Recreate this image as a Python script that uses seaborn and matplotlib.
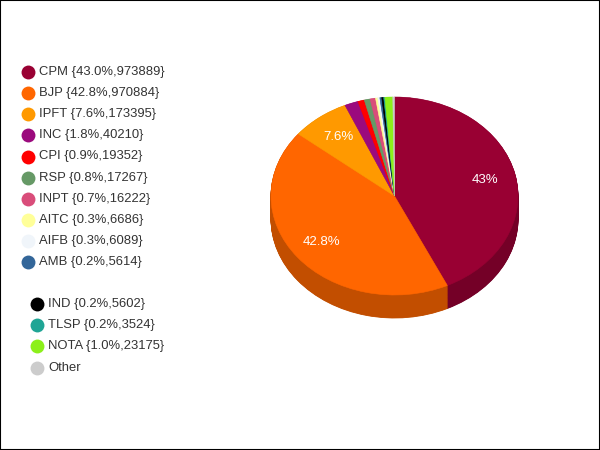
import numpy as np
import matplotlib
matplotlib.use("Agg")
import matplotlib.pyplot as plt
import matplotlib.colors as mcolors
from matplotlib.patches import Rectangle
import seaborn as sns

# ---- data ----
parties = ["CPM", "BJP", "IPFT", "INC", "CPI", "RSP", "INPT", "AITC", "AIFB", "AMB",
           "IND", "TLSP", "NOTA", "Other"]
votes = [973889, 970884, 173395, 40210, 19352, 17267, 16222, 6686, 6089, 5614,
         5602, 3524, 23175, 5000]
colors = ["#990033", "#ff6600", "#ff9900", "#9b0a7d", "#ff0000", "#669966", "#d94d7a",
          "#ffff99", "#f0f5fa", "#336699", "#000000", "#1fa595", "#8cf01a", "#cccccc"]

sns.set_style("white")
plt.rcParams["font.family"] = ["Liberation Sans", "DejaVu Sans"]

fig = plt.figure(figsize=(6, 4.5), dpi=100)
fig.patch.set_facecolor("white")

total = float(sum(votes))
pcts = [v / total * 100 for v in votes]

# ---- 3D-like pie ----
cx, cy, rx, ry, depth = 394.5, 196.0, 123.5, 99.0, 23.0
d = depth / ry
ax = fig.add_axes([(cx - rx) / 600, (450 - (cy + ry + depth)) / 450,
                   2 * rx / 600, (2 * ry + depth) / 450])
pie_vals = [v for v in votes if v > 0]
pie_cols = [c for v, c in zip(votes, colors) if v > 0]
dark_cols = [tuple(np.array(mcolors.to_rgb(c)) * 0.76) for c in pie_cols]

for k in np.linspace(-d, -0.005, 40):
    ax.pie(pie_vals, colors=dark_cols, center=(0, k), radius=1, startangle=90,
           counterclock=False, wedgeprops=dict(linewidth=0.6))
    for w, c in zip(ax.patches[-len(pie_vals):], dark_cols):
        w.set_edgecolor(c)


def fmt(p):
    if p < 5:
        return ""
    s = f"{p:.1f}"
    if s.endswith(".0"):
        s = s[:-2]
    return s + "%"


wedges, texts, autotexts = ax.pie(
    pie_vals, colors=pie_cols, center=(0, 0), radius=1, startangle=90,
    counterclock=False, autopct=fmt, pctdistance=0.75,
    wedgeprops=dict(linewidth=0.4),
    textprops=dict(color="white", fontsize=9.5))
for w, c in zip(wedges, pie_cols):
    w.set_edgecolor(c)
ax.set_aspect("auto")
ax.set_xlim(-1, 1)
ax.set_ylim(-1 - d, 1)
ax.axis("off")

# ---- legend ----
lg = fig.add_axes([0, 0, 1, 1], zorder=5)
lg.set_xlim(0, 600)
lg.set_ylim(450, 0)
lg.axis("off")
lg.patch.set_alpha(0)
for i, (name, v, p, c) in enumerate(zip(parties, votes, pcts, colors)):
    if i < 10:
        mx, y = 27.5, 72.3 + 21.05 * i
    else:
        mx, y = 36.7, 303.5 + 21.4 * (i - 10)
    label = name if name == "Other" else f"{name} {{{p:.1f}%,{v}}}"
    lg.scatter([mx], [y], s=100, color=c, linewidths=0)
    lg.text(mx + 11.5, y, label, fontsize=9.4, color="#333333", va="center", ha="left")

fig.add_artist(Rectangle((0, 0), 1, 1, transform=fig.transFigure, fill=False,
                         edgecolor="black", linewidth=1.5, zorder=10))

fig.savefig("out.png", dpi=100, facecolor="white")
